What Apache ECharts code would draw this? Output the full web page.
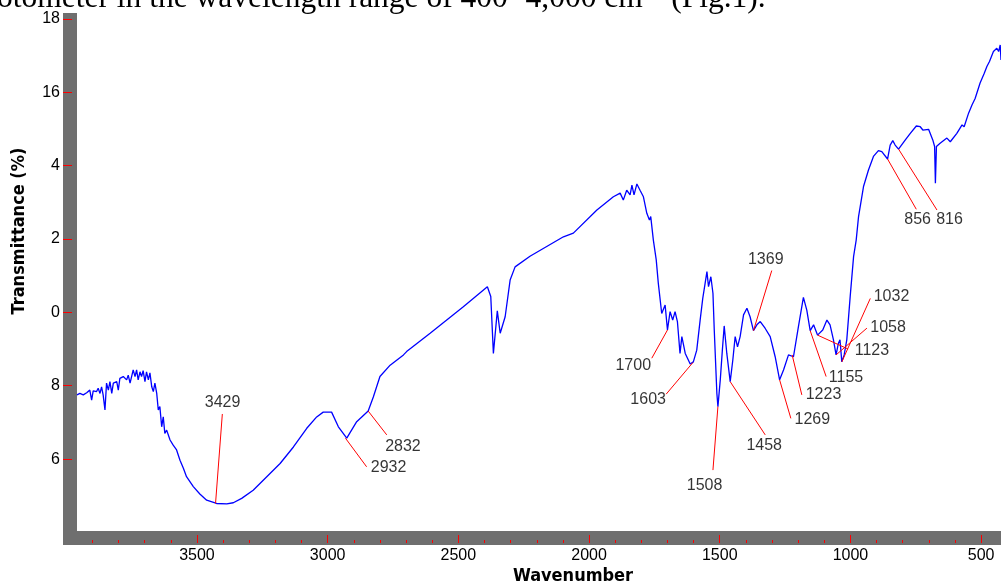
<!DOCTYPE html>
<html>
<head>
<meta charset="utf-8">
<script src="https://cdn.jsdelivr.net/npm/echarts@6/dist/echarts.min.js"></script>
<style>
  html, body { margin: 0; padding: 0; background: #fff; }
  #chart { width: 1001px; height: 585px; }
</style>
</head>
<body>
<div id="chart"></div>
<script>
// FTIR spectrum (wavenumber in cm-1, transmittance in %)
const wavenumber = [
  3959, 3948, 3935, 3922, 3910, 3903, 3897, 3884, 3878, 3871, 3865, 3859, 3852, 3846, 3839, 3833,
  3826, 3820, 3807, 3801, 3795, 3782, 3769, 3763, 3756, 3750, 3744, 3737, 3731, 3725, 3718, 3712,
  3706, 3699, 3693, 3686, 3680, 3673, 3667, 3661, 3654, 3648, 3642, 3635, 3629, 3623, 3616, 3603,
  3591, 3578, 3565, 3552, 3540, 3514, 3489, 3463, 3425, 3386, 3361, 3329, 3285, 3233, 3182, 3131,
  3080, 3042, 3017, 2985, 2959, 2927, 2889, 2845, 2825, 2800, 2761, 2710, 2698, 2608, 2481, 2389,
  2376, 2366, 2351, 2340, 2321, 2302, 2283, 2226, 2098, 2060, 1970, 1907, 1881, 1869, 1856, 1843,
  1836, 1828, 1817, 1805, 1792, 1779, 1769, 1764, 1754, 1743, 1735, 1728, 1722, 1709, 1700, 1690,
  1680, 1671, 1662, 1652, 1645, 1632, 1613, 1601, 1588, 1575, 1565, 1556, 1549, 1543, 1534, 1526,
  1521, 1511, 1507, 1498, 1490, 1483, 1473, 1460, 1450, 1441, 1432, 1422, 1409, 1396, 1384, 1371,
  1358, 1345, 1326, 1307, 1288, 1271, 1256, 1237, 1218, 1199, 1180, 1167, 1154, 1141, 1126, 1106,
  1090, 1078, 1065, 1055, 1046, 1040, 1033, 1024, 1014, 1001, 988, 978, 969, 950, 931, 912,
  893, 880, 858, 848, 838, 829, 816, 790, 771, 748, 733, 723, 701, 685, 678, 675,
  671, 657, 631, 618, 593, 573, 565, 548, 535, 523, 504, 488, 478, 468, 453, 440,
  433, 427, 424
];
const transmittance = [
  7.75, 7.79, 7.75, 7.81, 7.88, 7.61, 7.86, 7.84, 7.93, 7.79, 7.97, 7.75, 7.34, 8.07, 7.88, 8.11,
  7.79, 8.07, 8.11, 7.88, 8.20, 8.25, 8.16, 8.29, 8.07, 8.02, 8.43, 8.25, 8.43, 8.16, 8.38, 8.25,
  8.41, 8.11, 8.38, 8.16, 8.35, 7.97, 7.84, 8.07, 7.79, 7.34, 7.43, 6.88, 7.15, 6.70, 6.79, 6.52,
  6.38, 6.25, 5.97, 5.75, 5.52, 5.25, 5.05, 4.88, 4.79, 4.78, 4.81, 4.93, 5.15, 5.52, 5.88, 6.33,
  6.84, 7.15, 7.28, 7.28, 6.88, 6.57, 7.02, 7.31, 7.70, 8.25, 8.56, 8.84, 8.93, 9.43, 10.15, 10.70,
  10.43, 8.88, 10.04, 9.43, 9.88, 10.88, 11.24, 11.53, 12.06, 12.16, 12.79, 13.15, 13.25, 13.06, 13.33, 13.20,
  13.47, 13.20, 13.50, 13.33, 13.15, 12.70, 12.52, 12.61, 11.97, 11.43, 10.79, 10.84, 9.97, 10.20, 9.52, 10.02,
  9.79, 10.02, 9.75, 8.88, 9.34, 8.88, 8.59, 8.65, 8.97, 9.79, 10.38, 10.79, 11.11, 10.70, 10.97, 10.52,
  9.52, 7.79, 7.43, 8.16, 8.97, 9.63, 8.88, 8.11, 8.70, 9.34, 9.06, 9.34, 9.93, 10.11, 9.88, 9.50,
  9.66, 9.75, 9.56, 9.34, 8.79, 8.16, 8.43, 8.84, 8.79, 9.61, 10.41, 10.06, 9.50, 9.66, 9.38, 9.52,
  9.79, 9.66, 9.25, 8.84, 9.16, 9.25, 8.65, 8.84, 9.25, 10.43, 11.52, 11.97, 12.61, 13.43, 13.88, 14.25,
  14.41, 14.38, 14.18, 14.56, 14.68, 14.56, 14.45, 14.70, 14.88, 15.08, 15.06, 14.97, 14.99, 14.70, 14.52, 13.52,
  14.52, 14.61, 14.75, 14.65, 14.88, 15.11, 15.06, 15.43, 15.65, 15.83, 16.25, 16.52, 16.70, 16.84, 17.11, 17.20,
  17.11, 17.29, 16.88
];

// peak annotations: red leader line from the curve to the label
const peakText = ['3429', '2932', '2832', '1700', '1603', '1508', '1458', '1369', '1269', '1223', '1155', '1123', '1058', '1032', '856', '816'];
const peakWn   = [3429, 2932, 2845, 1700, 1603, 1507, 1460, 1371, 1271, 1223, 1154, 1126, 1055, 1033, 858, 816];
const peakT    = [4.79, 6.57, 7.31, 9.52, 8.63, 7.43, 8.11, 9.50, 8.16, 8.84, 9.50, 9.38, 8.84, 8.65, 14.18, 14.45];
const tipWn    = [3403, 2851, 2774, 1760, 1705, 1526, 1326, 1301, 1228, 1186, 1093, 1009, 937, 924, 748, 669];
const tipT     = [7.23, 5.79, 6.66, 8.75, 7.77, 5.70, 6.66, 11.14, 7.11, 7.75, 8.25, 9.00, 9.57, 10.38, 12.81, 12.79];
const textWn   = [3402, 2767, 2712, 1831, 1774, 1558, 1330, 1324, 1146, 1103, 1017, 918, 856, 843, 743, 621];
const textT    = [7.54, 5.76, 6.33, 8.56, 7.61, 5.29, 6.36, 11.43, 7.08, 7.75, 8.23, 8.97, 9.59, 10.43, 12.52, 12.52];

// axis ticks and their printed labels
const xMajorTicks = [3500, 3000, 2500, 2000, 1500, 1000, 500];
const xMinorTicks = [3900, 3800, 3700, 3600, 3400, 3300, 3200, 3100, 2900, 2800, 2700, 2600,
  2400, 2300, 2200, 2100, 1900, 1800, 1700, 1600, 1400, 1300, 1200, 1100, 900, 800, 700, 600];
const yTickValues = [6, 8, 10, 12, 14, 16, 18];
const yTickLabels = ['6', '8', '0', '2', '4', '16', '18'];

const W = 1001, H = 585;
const GRID = { left: 77, right: 0, top: 13, bottom: 54 };
const FRAME = 14;
const frameColor = '#6f6f6f';
const labelFont = "'Liberation Sans', Arial, sans-serif";
const labelSize = 16;
const titleFont = "bold 18px 'DejaVu Sans Condensed', 'DejaVu Sans', sans-serif";

const chart = echarts.init(document.getElementById('chart'));

const option = {
  animation: false,
  grid: { left: GRID.left, right: GRID.right, top: GRID.top, bottom: GRID.bottom },
  xAxis: [
    {
      type: 'value', inverse: true, min: 424, max: 3959, position: 'bottom', offset: 12, z: 5,
      axisLine: { show: false },
      splitLine: { show: false },
      axisTick: { show: true, inside: true, length: 8, customValues: xMajorTicks, lineStyle: { color: '#ff0000', width: 1 } },
      axisLabel: {
        customValues: xMajorTicks, margin: 5, color: '#000', fontFamily: labelFont, fontSize: labelSize,
        formatter: v => String(v)
      }
    },
    {
      type: 'value', inverse: true, min: 424, max: 3959, position: 'bottom', offset: 12, z: 4,
      axisLine: { show: false },
      splitLine: { show: false },
      axisTick: { show: true, inside: true, length: 3, customValues: xMinorTicks, lineStyle: { color: '#ff0000', width: 1 } },
      axisLabel: { show: false }
    }
  ],
  yAxis: {
    type: 'value', min: 4.04, max: 18.16, position: 'left', offset: FRAME, z: 5,
    axisLine: { show: false },
    splitLine: { show: false },
    axisTick: { show: true, inside: true, length: 9, customValues: yTickValues, lineStyle: { color: '#ff0000', width: 1 } },
    axisLabel: {
      customValues: yTickValues, margin: 3, color: '#000', fontFamily: labelFont, fontSize: labelSize,
      formatter: v => yTickLabels[yTickValues.indexOf(v)]
    }
  },
  graphic: [
    { type: 'rect', z: -1, shape: { x: GRID.left - FRAME, y: GRID.top, width: FRAME, height: H - GRID.top - GRID.bottom + FRAME }, style: { fill: frameColor } },
    { type: 'rect', z: -1, shape: { x: GRID.left - FRAME, y: H - GRID.bottom, width: W, height: FRAME }, style: { fill: frameColor } },
    { type: 'text', x: -3, y: -1, style: { text: 'otometer in the wavelength range of 400\u22124,000 cm\u207B\u00B9 (Fig.1).', font: "31.5px 'Liberation Serif', serif", fill: '#000', verticalAlign: 'middle' } },
    { type: 'text', x: 19, y: 231, rotation: Math.PI / 2, style: { text: 'Transmittance (%)', font: titleFont, fill: '#000', textAlign: 'center', verticalAlign: 'middle' } },
    { type: 'text', x: 573, y: 576, style: { text: 'Wavenumber', font: titleFont, fill: '#000', textAlign: 'center', verticalAlign: 'middle' } }
  ],
  series: [
    {
      type: 'line',
      data: wavenumber.map((w, i) => [w, transmittance[i]]),
      showSymbol: false,
      lineStyle: { color: '#0000ff', width: 1.3 },
      itemStyle: { color: '#0000ff' },
      emphasis: { disabled: true },
      z: 3
    },
    {
      type: 'scatter',
      data: peakText.map((t, i) => ({ name: t, value: [textWn[i], textT[i]] })),
      symbolSize: 1,
      itemStyle: { color: 'rgba(0,0,0,0)' },
      label: { show: true, position: 'inside', formatter: '{b}', color: '#000', fontFamily: labelFont, fontSize: labelSize },
      emphasis: { disabled: true },
      silent: true,
      z: 4,
      markLine: {
        silent: true,
        symbol: ['none', 'none'],
        label: { show: false },
        lineStyle: { color: '#ff0000', width: 1, type: 'solid' },
        emphasis: { disabled: true },
        data: peakText.map((t, i) => [{ coord: [peakWn[i], peakT[i]] }, { coord: [tipWn[i], tipT[i]] }])
      }
    }
  ]
};

chart.setOption(option);
</script>
</body>
</html>
